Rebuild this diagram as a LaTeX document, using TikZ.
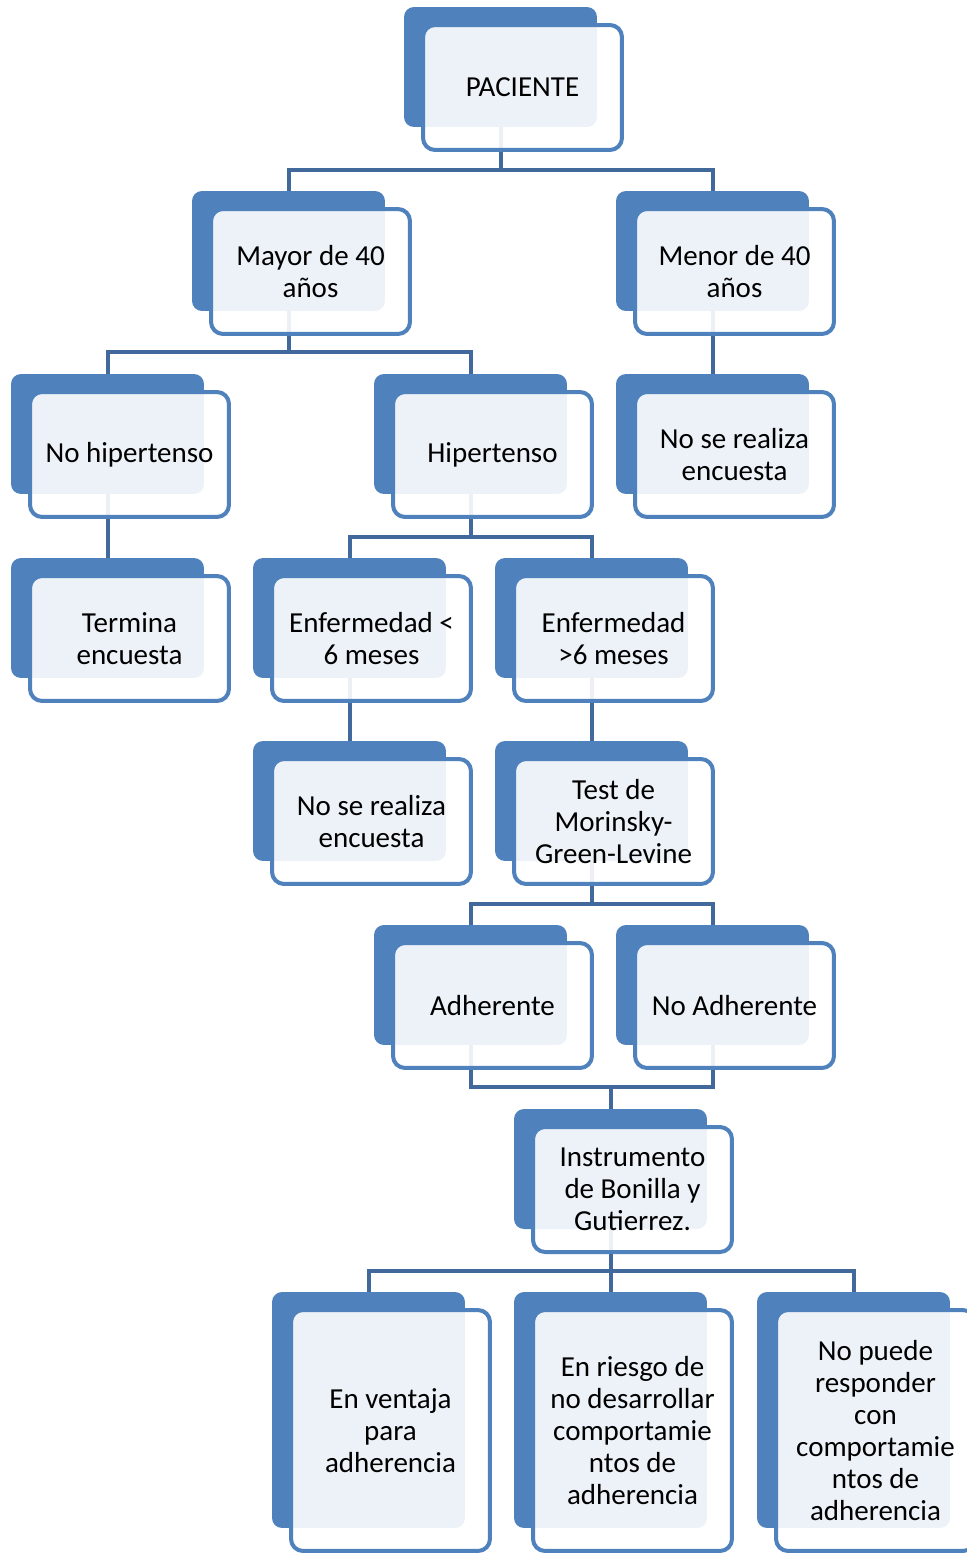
\documentclass[tikz,border=0pt]{standalone}
\usepackage{fontspec}
\setmainfont{Carlito}
\usetikzlibrary{calc,backgrounds}
\definecolor{boxblue}{HTML}{4F81BD}
\definecolor{linkblue}{HTML}{41699C}
% one step of the chart: filled block behind, framed card in front
\newcommand{\flowbox}[4][2.4cm]{%
  \node[backbox, minimum height=#1] (#2) at (#3) {};
  \node[frontbox, minimum height=#1+0.1cm] (#2-f) at ($(#2)+(22,20.5)$) {#4};}

\begin{document}
\begin{tikzpicture}[x=0.02cm, y=-0.02cm,
  backbox/.style={fill=boxblue, rounded corners=0.2cm, minimum width=3.86cm, inner sep=0pt},
  frontbox/.style={draw=boxblue, line width=0.08cm, fill=white, fill opacity=0.9,
    text opacity=1, rounded corners=0.24cm, minimum width=3.98cm, inner sep=0pt,
    align=center, font=\fontsize{16.5}{18.2}\selectfont},
  link/.style={draw=linkblue, line width=0.08cm}]
\useasboundingbox (0,0) rectangle (966,1557);

% Levels of the chart
\flowbox{pac}{500.5,67}{PACIENTE}
\flowbox{may}{288.5,251}{Mayor de 40\\años}
\flowbox{men}{712.5,251}{Menor de 40\\años}
\flowbox{nohip}{107.5,434}{No hipertenso}
\flowbox{hip}{470.5,434}{Hipertenso}
\flowbox{norea}{712.5,434}{No se realiza\\encuesta}
\flowbox{term}{107.5,618}{Termina\\encuesta}
\flowbox{enfmen}{349.5,618}{Enfermedad <\\6 meses}
\flowbox{enfmay}{591.5,618}{Enfermedad\\>6 meses}
\flowbox{noreb}{349.5,801}{No se realiza\\encuesta}
\flowbox{test}{591.5,801}{Test de\\Morinsky-\\Green-Levine}
\flowbox{adh}{470.5,985}{Adherente}
\flowbox{noadh}{712.5,985}{No Adherente}
\flowbox{ins}{610.5,1169}{Instrumento\\de Bonilla y\\Gutierrez.}
\flowbox[4.72cm]{vent}{368.5,1410}{En ventaja\\para\\adherencia}
\flowbox[4.72cm]{ries}{610.5,1410}{En riesgo de\\no desarrollar\\comportamie\\ntos de\\adherencia}
\flowbox[4.72cm]{nopu}{853.5,1410}{No puede\\responder\\con\\comportamie\\ntos de\\adherencia}

% Connectors, kept under the cards
\begin{scope}[on background layer]
  \draw[link] (pac.south) -- ++(0,43) -| (may.north);
  \draw[link] (pac.south) -- ++(0,43) -| (men.north);
  \draw[link] (may.south) -- ++(0,41) -| (nohip.north);
  \draw[link] (may.south) -- ++(0,41) -| (hip.north);
  \draw[link] (men.south) -- (norea.north);
  \draw[link] (nohip.south) -- (term.north);
  \draw[link] (hip.south) -- ++(0,43) -| (enfmen.north);
  \draw[link] (hip.south) -- ++(0,43) -| (enfmay.north);
  \draw[link] (enfmen.south) -- (noreb.north);
  \draw[link] (enfmay.south) -- (test.north);
  \draw[link] (test.south) -- ++(0,43) -| (adh.north);
  \draw[link] (test.south) -- ++(0,43) -| (noadh.north);
  % both answers lead to the same instrument
  \draw[link] (adh.south) -- ++(0,42) coordinate (merge) -| (noadh.south);
  \draw[link] (ins.north) -- (ins.north |- merge);
  \draw[link] (ins.south) -- ++(0,42) -| (vent.north);
  \draw[link] (ins.south) -- ++(0,42) -| (ries.north);
  \draw[link] (ins.south) -- ++(0,42) -| (nopu.north);
\end{scope}
\end{tikzpicture}
\end{document}
